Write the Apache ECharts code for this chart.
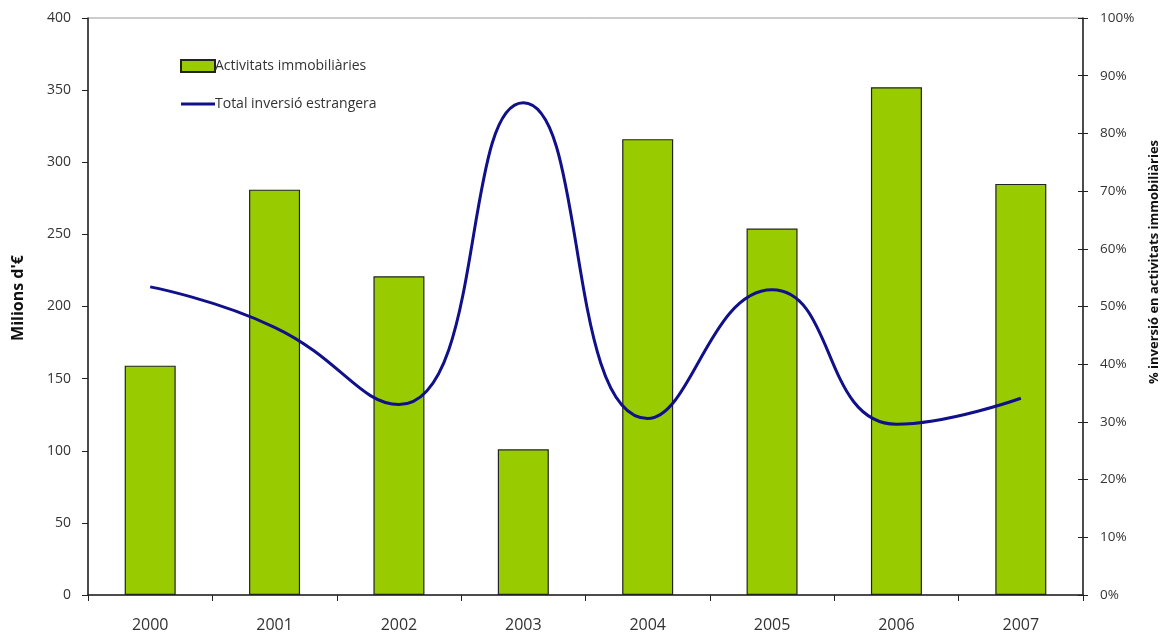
<!DOCTYPE html>
<html><head><meta charset="utf-8">
<script src="https://cdn.jsdelivr.net/npm/echarts@6/dist/echarts.min.js"></script>
<style>html,body{margin:0;padding:0;background:#fff}#c{width:1168px;height:637px}</style>
</head><body><div id="c"></div>
<script>
const years = ['2000','2001','2002','2003','2004','2005','2006','2007'];
const immobiliaries = [159, 281, 221, 101, 316, 254, 352, 285];
const pctInversio = [53.4, 46.4, 33.0, 85.3, 30.6, 52.9, 29.6, 34.1];
const leftTicks = {min: 0, max: 400, interval: 50};
const rightTicks = {min: 0, max: 100, interval: 10};

const F = '"Open Sans", "DejaVu Sans", sans-serif';
const chart = echarts.init(document.getElementById('c'));
chart.setOption({
  animation: false,
  backgroundColor: '#fff',
  grid: {left: 88, right: 85, top: 18, bottom: 42, show: true, borderColor: '#999', borderWidth: 1},
  legend: {
    orient: 'vertical', left: 175, top: 54, itemGap: 24, itemWidth: 34, itemHeight: 12,
    textStyle: {fontFamily: F, fontSize: 14, color: '#333', padding: [0,0,0,-5]},
    data: [
      {name: 'Activitats immobiliàries', icon: 'rect'},
      {name: 'Total inversió estrangera', icon: 'path://M0,0 L34,0 L34,3 L0,3 Z'}
    ]
  },
  xAxis: {
    type: 'category', data: years, boundaryGap: true,
    axisLine: {lineStyle: {color: '#222', width: 1.5}},
    axisTick: {show: true, length: 6, lineStyle: {color: '#222'}},
    axisLabel: {fontFamily: F, fontSize: 16, color: '#333', margin: 22}
  },
  yAxis: [
    {type: 'value', min: leftTicks.min, max: leftTicks.max, interval: leftTicks.interval, position: 'left',
     splitLine: {show: false},
     axisLine: {show: true, lineStyle: {color: '#222', width: 1.5}},
     axisTick: {show: true, length: 6, lineStyle: {color: '#222'}},
     axisLabel: {fontFamily: F, fontSize: 14, color: '#333', margin: 17}},
    {type: 'value', min: rightTicks.min, max: rightTicks.max, interval: rightTicks.interval, position: 'right',
     splitLine: {show: false},
     axisLine: {show: true, lineStyle: {color: '#222', width: 1.5}},
     axisTick: {show: true, length: 5, lineStyle: {color: '#222'}},
     axisLabel: {fontFamily: F, fontSize: 13.5, color: '#333', margin: 17, formatter: '{value}%'}},
    {type: 'value', min: rightTicks.min, max: rightTicks.max, interval: rightTicks.interval, position: 'right',
     splitLine: {show: false},
     axisLine: {show: false},
     axisTick: {show: true, inside: true, length: 5, lineStyle: {color: '#222'}},
     axisLabel: {show: false}}
  ],
  series: [
    {name: 'Activitats immobiliàries', type: 'bar', data: immobiliaries, yAxisIndex: 0, barWidth: 51,
     itemStyle: {color: '#99CC00', borderColor: '#222', borderWidth: 1.2}},
    {name: 'Total inversió estrangera', type: 'line', data: pctInversio, yAxisIndex: 1, smooth: 0.5,
     symbol: 'none', lineStyle: {color: '#10108a', width: 3}, itemStyle: {color: '#10108a'}}
  ],
  graphic: [
    {type: 'text', x: 18, y: 298, rotation: Math.PI/2,
     style: {text: "Milions d'€", fontFamily: F, fontSize: 16, fontWeight: 'bold', fill: '#111', align: 'center', verticalAlign: 'middle'}},
    {type: 'text', x: 1154, y: 262, rotation: Math.PI/2,
     style: {text: '% inversió en activitats immobiliàries', fontFamily: F, fontSize: 13, fontWeight: 'bold', fill: '#111', align: 'center', verticalAlign: 'middle'}}
  ]
});
</script></body></html>
